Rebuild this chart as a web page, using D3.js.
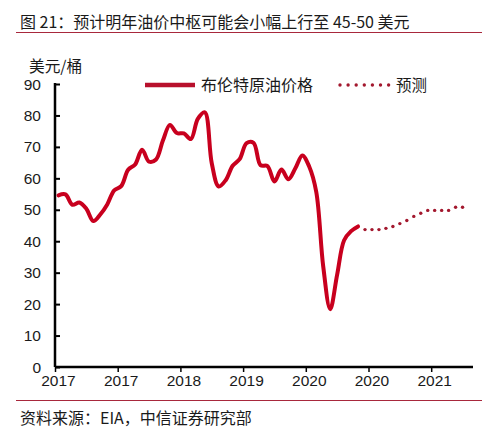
<!DOCTYPE html>
<html><head><meta charset="utf-8">
<script src="https://cdn.jsdelivr.net/npm/d3@7"></script>
<style>
html,body{margin:0;padding:0;background:#fff;}
svg{display:block;}
</style></head>
<body>
<script>
// ---- data ----
const titleText = "图 21：预计明年油价中枢可能会小幅上行至 45-50 美元";
const sourceText = "资料来源：EIA，中信证券研究部";
const unitText = "美元/桶";
const seriesNames = ["布伦特原油价格", "预测"];

const actualMonths = ["2017-01","2017-02","2017-03","2017-04","2017-05","2017-06","2017-07","2017-08","2017-09","2017-10","2017-11","2017-12",
  "2018-01","2018-02","2018-03","2018-04","2018-05","2018-06","2018-07","2018-08","2018-09","2018-10","2018-11","2018-12",
  "2019-01","2019-02","2019-03","2019-04","2019-05","2019-06","2019-07","2019-08","2019-09","2019-10","2019-11","2019-12",
  "2020-01","2020-02","2020-03","2020-04","2020-05","2020-06","2020-07","2020-08"];
const actualValues = [54.6,54.9,51.6,52.3,50.3,46.4,48.5,51.7,56.2,57.5,62.7,64.4,
  69.1,65.3,66.0,72.1,77.0,74.4,74.3,72.5,78.9,81.0,64.8,57.4,
  59.4,64.0,66.1,71.2,71.3,64.2,63.9,59.0,62.8,59.7,63.2,67.3,
  63.7,55.7,32.0,18.4,29.4,40.3,43.2,44.7];

const forecastMonths = ["2020-09","2020-10","2020-11","2020-12","2021-01","2021-02","2021-03","2021-04","2021-05","2021-06","2021-07","2021-08","2021-09","2021-10","2021-11"];
const forecastValues = [43.7,43.7,43.7,44.1,44.7,45.6,46.6,47.9,48.9,49.8,49.8,49.8,49.8,50.8,50.8];

const yTicks = [0,10,20,30,40,50,60,70,80,90];
const xTickMonths = ["2017-01","2017-10","2018-07","2019-04","2020-01","2020-10","2021-07"];
const xDomainMonths = ["2017-01","2022-01"];

// ---- helpers ----
function mIdx(s){ const [y,m] = s.split("-").map(Number); return (y-2017)*12 + (m-1); }

const W = 501, H = 439;
const svg = d3.select("body").append("svg").attr("width", W).attr("height", H);

const cjk = "'Noto Sans CJK SC','Noto Sans',sans-serif";
const lat = "'Liberation Sans',Arial,sans-serif";
const lineColor = "#C8001E";
const dotColor = "#A3182E";

const x = d3.scaleLinear().domain(xDomainMonths.map(mIdx)).range([55, 473]);
const y = d3.scaleLinear().domain([0, 90]).range([367, 84]);

// title
svg.append("text").attr("x", 20).attr("y", 28).attr("font-family", cjk).attr("font-size", 16)
  .attr("fill", "#1a1a1a").text(titleText);
svg.append("line").attr("x1", 16).attr("x2", 482).attr("y1", 32.5).attr("y2", 32.5)
  .attr("stroke", "#A8283C").attr("stroke-width", 1);

// footer
svg.append("line").attr("x1", 16).attr("x2", 482).attr("y1", 400.5).attr("y2", 400.5)
  .attr("stroke", "#A8283C").attr("stroke-width", 1);
svg.append("text").attr("x", 20).attr("y", 424).attr("font-family", cjk).attr("font-size", 16)
  .attr("fill", "#1a1a1a").text(sourceText);

// unit label
svg.append("text").attr("x", 29).attr("y", 72).attr("font-family", cjk).attr("font-size", 15.7)
  .attr("fill", "#1a1a1a").text(unitText);

// y axis
const yAxis = d3.axisRight(y).tickValues(yTicks).tickSize(5).tickFormat("");
const gy = svg.append("g").attr("transform", "translate(55,0)").call(yAxis);
gy.select(".domain").remove();
gy.selectAll(".tick line").attr("stroke", "#000").attr("stroke-width", 2);
svg.append("line").attr("x1", 55).attr("x2", 55).attr("y1", y(90) - 1).attr("y2", y(0))
  .attr("stroke", "#000").attr("stroke-width", 2.5);
svg.append("g").selectAll("text").data(yTicks).join("text")
  .attr("x", 41).attr("y", d => y(d) + 5.5).attr("text-anchor", "end")
  .attr("font-family", lat).attr("font-size", 15.5).attr("fill", "#1a1a1a")
  .text(d => d);

// x axis
const xAxis = d3.axisBottom(x).tickValues(xTickMonths.map(mIdx)).tickSize(5).tickFormat("");
const gx = svg.append("g").attr("transform", `translate(0,${y(0)})`).call(xAxis);
gx.select(".domain").remove();
gx.selectAll(".tick line").attr("stroke", "#000").attr("stroke-width", 1.5);
svg.append("line").attr("x1", 55).attr("x2", 473).attr("y1", y(0)).attr("y2", y(0))
  .attr("stroke", "#000").attr("stroke-width", 2.5);
svg.append("g").selectAll("text").data(xTickMonths).join("text")
  .attr("x", d => x(mIdx(d) + 0.5)).attr("y", 386).attr("text-anchor", "middle")
  .attr("font-family", lat).attr("font-size", 15.5).attr("fill", "#1a1a1a")
  .text(d => d.slice(0, 4));

// actual line
const actual = actualMonths.map((m, i) => ({ m: mIdx(m) + 0.5, v: actualValues[i] }));
const line = d3.line().x(d => x(d.m)).y(d => y(d.v)).curve(d3.curveCatmullRom.alpha(0.5));
svg.append("path").datum(actual).attr("d", line).attr("fill", "none")
  .attr("stroke", lineColor).attr("stroke-width", 4).attr("stroke-linejoin", "round").attr("stroke-linecap", "round");

// forecast dots
const fc = forecastMonths.map((m, i) => ({ m: mIdx(m) + 0.5, v: forecastValues[i] }));
svg.append("g").selectAll("circle").data(fc).join("circle")
  .attr("cx", d => x(d.m)).attr("cy", d => y(d.v)).attr("r", 1.7).attr("fill", dotColor);

// legend
svg.append("line").attr("x1", 145).attr("x2", 195).attr("y1", 85).attr("y2", 85)
  .attr("stroke", "#B8102C").attr("stroke-width", 4.5);
svg.append("text").attr("x", 201).attr("y", 91).attr("font-family", cjk).attr("font-size", 16)
  .attr("fill", "#1a1a1a").text(seriesNames[0]);
svg.append("g").selectAll("circle").data(d3.range(7)).join("circle")
  .attr("cx", i => 340 + i * 8.1).attr("cy", 85).attr("r", 1.7).attr("fill", dotColor);
svg.append("text").attr("x", 396).attr("y", 91).attr("font-family", cjk).attr("font-size", 15.5)
  .attr("fill", "#1a1a1a").text(seriesNames[1]);
</script>
</body></html>
